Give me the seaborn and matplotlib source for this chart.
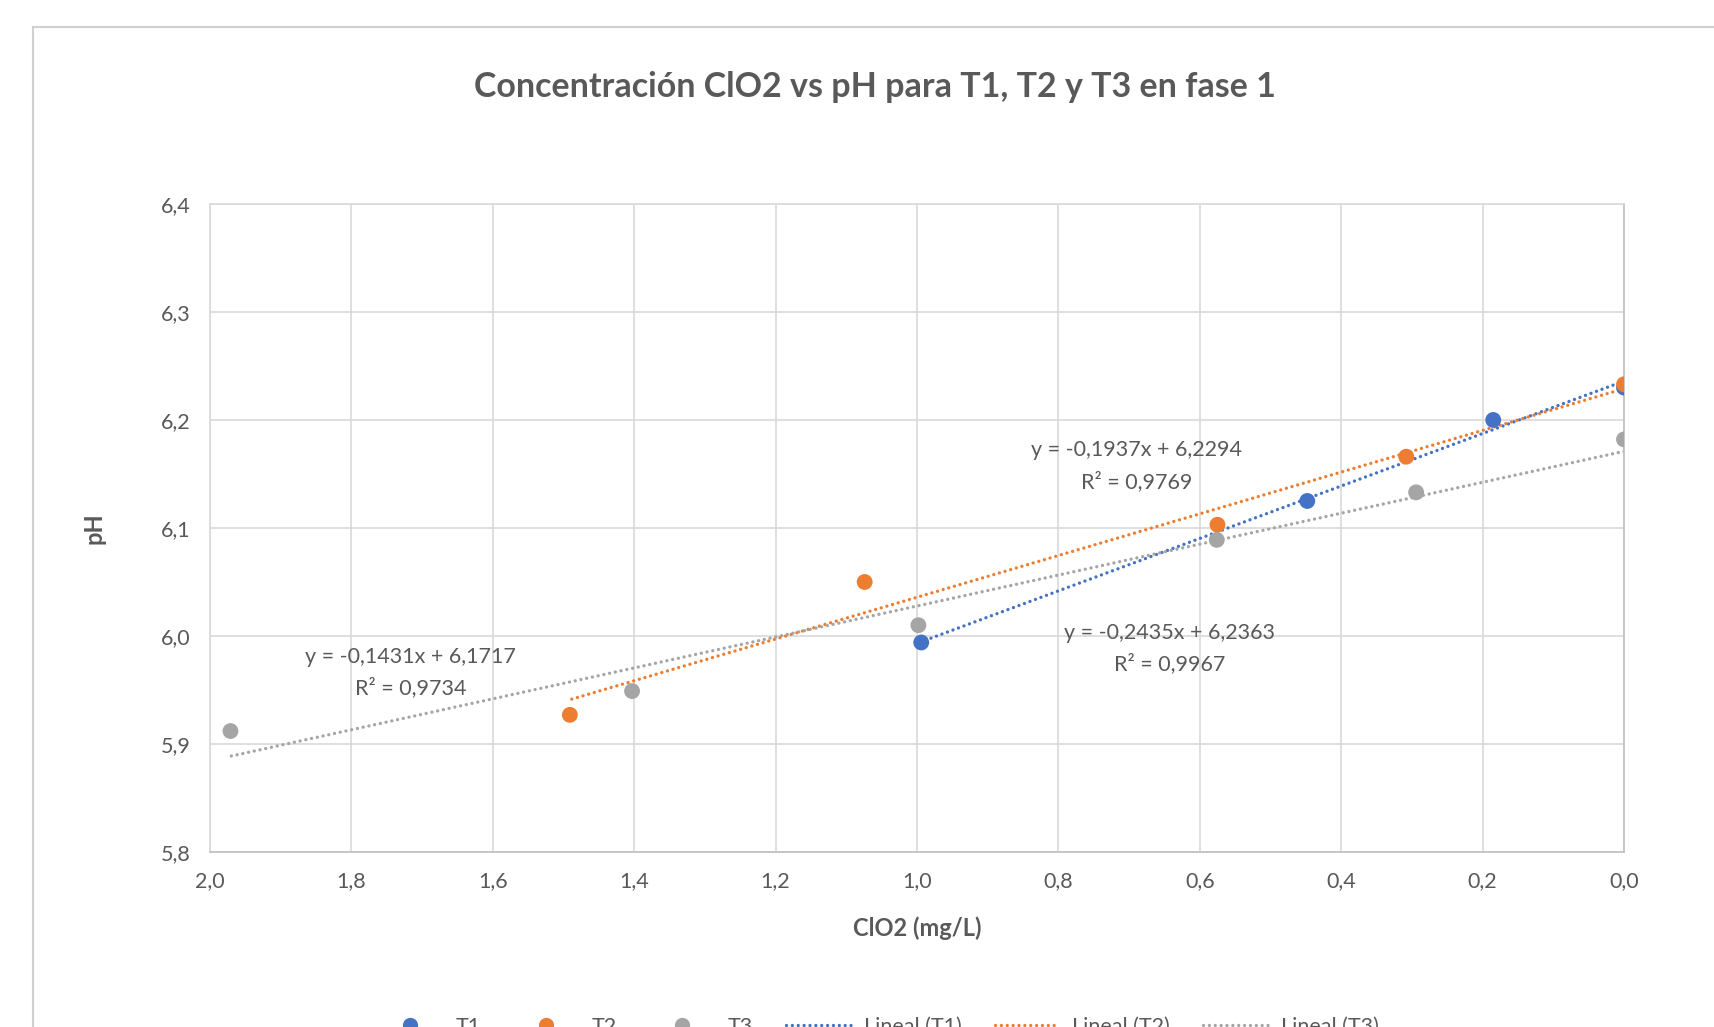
"""Concentración ClO2 vs pH (T1, T2, T3) recreated with seaborn."""

import matplotlib.pyplot as plt
import matplotlib.patches as mpatches
import numpy as np
import pandas as pd
import seaborn as sns
from matplotlib.lines import Line2D
from matplotlib.ticker import FuncFormatter

# Data
t1_clo2 = [0.994, 0.448, 0.185, 0.0]
t1_ph = [5.994, 6.125, 6.200, 6.230]
t2_clo2 = [1.491, 1.074, 0.575, 0.308, 0.0]
t2_ph = [5.927, 6.050, 6.103, 6.166, 6.233]
t3_clo2 = [1.971, 1.403, 0.998, 0.576, 0.294, 0.0]
t3_ph = [5.912, 5.949, 6.010, 6.089, 6.133, 6.182]

series_names = ["T1", "T2", "T3"]
series_colors = ["#4472C4", "#ED7D31", "#A5A5A5"]
trend_equations = ["y = -0,2435x + 6,2363", "y = -0,1937x + 6,2294", "y = -0,1431x + 6,1717"]
trend_r2 = ["R² = 0,9967", "R² = 0,9769", "R² = 0,9734"]

x_ticks = [2.0, 1.8, 1.6, 1.4, 1.2, 1.0, 0.8, 0.6, 0.4, 0.2, 0.0]
y_ticks = [5.8, 5.9, 6.0, 6.1, 6.2, 6.3, 6.4]

df = pd.concat([
    pd.DataFrame({"clo2": t1_clo2, "ph": t1_ph, "serie": "T1"}),
    pd.DataFrame({"clo2": t2_clo2, "ph": t2_ph, "serie": "T2"}),
    pd.DataFrame({"clo2": t3_clo2, "ph": t3_ph, "serie": "T3"}),
])

sns.set_theme(style="white")
plt.rcParams["font.family"] = ["Lato", "DejaVu Sans"]
text_color = "#595959"
grid_color = "#D9D9D9"

fig = plt.figure(figsize=(17.14, 10.27), dpi=100)
ax = fig.add_axes([0.1225, 0.1704, 0.825, 0.631])

# chart frame (cut at right and bottom like the screenshot)
fig.patches.append(mpatches.Rectangle((33 / 1714, -0.05), 1.0, 1 - 27 / 1027 + 0.05,
                                      transform=fig.transFigure, fill=False,
                                      edgecolor="#D0D0D0", linewidth=1.5))

palette = dict(zip(series_names, series_colors))

# Excel-like round dotted trend lines
dotted = (0, (0.01, 1.75))
line_w = 2.4
for name, color in zip(series_names, series_colors):
    sub = df[df["serie"] == name]
    sns.regplot(data=sub, x="clo2", y="ph", ax=ax, scatter=False, ci=None,
                truncate=True, color=color,
                line_kws={"linestyle": dotted, "linewidth": line_w,
                          "dash_capstyle": "round"})

sns.scatterplot(data=df, x="clo2", y="ph", hue="serie", palette=palette,
                s=130, edgecolor="none", legend=False, ax=ax, zorder=5)

ax.set_xlim(2.0, 0.0)
ax.set_ylim(5.8, 6.4)
ax.set_xticks(x_ticks)
ax.set_yticks(y_ticks)
comma = FuncFormatter(lambda v, p: f"{v:.1f}".replace(".", ","))
ax.xaxis.set_major_formatter(comma)
ax.yaxis.set_major_formatter(comma)
ax.tick_params(axis="both", length=0, pad=14, labelsize=15.5, labelcolor=text_color)
ax.grid(True, color=grid_color, linewidth=1.2)
ax.set_axisbelow(True)
for side in ["top", "left"]:
    ax.spines[side].set_color(grid_color)
    ax.spines[side].set_linewidth(1.2)
for side in ["bottom", "right"]:
    ax.spines[side].set_color("#BFBFBF")
    ax.spines[side].set_linewidth(1.2)

ax.set_xlabel("ClO2 (mg/L)", fontsize=17, fontweight="bold", color=text_color, labelpad=18)
ax.set_ylabel("pH", fontsize=17, fontweight="bold", color=text_color, labelpad=40)

fig.text(0.5105, 0.915, "Concentración ClO2 vs pH para T1, T2 y T3 en fase 1",
         ha="center", va="center", fontsize=24.5, fontweight="bold", color=text_color)

# trendline equation labels
label_pos = [(0.643, 6.003), (0.689, 6.172), (1.716, 5.981)]
for (lx, ly), eq, r2 in zip(label_pos, trend_equations, trend_r2):
    ax.text(lx, ly, eq, ha="center", va="center", fontsize=15.5, color=text_color)
    ax.text(lx, ly - 0.029, r2, ha="center", va="center", fontsize=15.5, color=text_color)

handles = [Line2D([], [], linestyle="none", marker="o", markersize=11,
                  markerfacecolor=c, markeredgecolor="none", label=n)
           for n, c in zip(series_names, series_colors)]
handles += [Line2D([], [], color=c, linestyle=dotted, linewidth=line_w,
                   dash_capstyle="round", label=f"Lineal ({n})")
            for n, c in zip(series_names, series_colors)]
fig.legend(handles=handles, loc="center", bbox_to_anchor=(0.5125, 0.0), ncol=6,
           frameon=False, fontsize=15.5, labelcolor=text_color,
           handlelength=3.0, columnspacing=1.55, handletextpad=0.6)

fig.savefig("out.png", dpi=100, facecolor="white")
